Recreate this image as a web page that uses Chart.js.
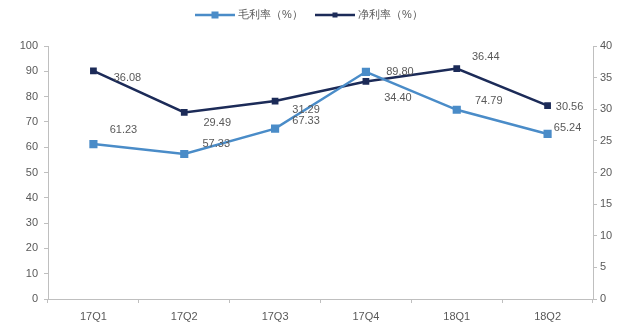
<!DOCTYPE html>
<html lang="zh">
<head>
<meta charset="UTF-8">
<title>毛利率 / 净利率</title>
<script src="https://cdn.jsdelivr.net/npm/chart.js@4.4.1/dist/chart.umd.min.js"></script>
<style>
  html, body { margin: 0; padding: 0; background: #fff; }
  #wrap { width: 627px; height: 329px; }
</style>
</head>
<body>
<div id="wrap"><canvas id="chart" width="627" height="329"></canvas></div>
<script>
// data
const quarters = ['17Q1', '17Q2', '17Q3', '17Q4', '18Q1', '18Q2'];
const grossMargin = [61.23, 57.33, 67.33, 89.80, 74.79, 65.24];
const netMargin = [36.08, 29.49, 31.29, 34.40, 36.44, 30.56];
const seriesNames = ['毛利率（%）', '净利率（%）'];
const leftTicks = { max: 100, step: 10 };
const rightTicks = { max: 40, step: 5 };

// where the value labels sit next to each point (px)
const grossLabelShift = [[30, -14], [32, -10], [31, -8], [34, 0], [32, -9], [20, -6]];
const netLabelShift = [[34, 7], [33, 10], [31, 9], [32, 17], [29, -12], [22, 1]];

const lightBlue = '#4A8CC8';
const navy = '#1C2B58';
const textGray = '#595959';
const axisGray = '#BFBFBF';
const font = { family: 'Liberation Sans, Arial, sans-serif', size: 11 };

const valueLabels = {
  id: 'valueLabels',
  afterDatasetsDraw(chart) {
    const ctx = chart.ctx;
    ctx.save();
    ctx.font = font.size + 'px ' + font.family;
    ctx.fillStyle = textGray;
    ctx.textAlign = 'center';
    ctx.textBaseline = 'middle';
    const shifts = [grossLabelShift, netLabelShift];
    chart.data.datasets.forEach((ds, i) => {
      chart.getDatasetMeta(i).data.forEach((pt, j) => {
        ctx.fillText(ds.data[j].toFixed(2), pt.x + shifts[i][j][0], pt.y + shifts[i][j][1]);
      });
    });
    ctx.restore();
  }
};

// legend drawn by hand: line with a marker in the middle, then the name
const lineLegend = {
  id: 'lineLegend',
  afterDraw(chart) {
    const ctx = chart.ctx;
    ctx.save();
    ctx.font = font.size + 'px ' + font.family;
    ctx.textBaseline = 'middle';
    const y = 15;
    const items = [
      { x: 195, color: lightBlue, size: 7 },
      { x: 315, color: navy, size: 5 }
    ];
    items.forEach((it, i) => {
      ctx.strokeStyle = it.color;
      ctx.lineWidth = 2.5;
      ctx.beginPath();
      ctx.moveTo(it.x, y);
      ctx.lineTo(it.x + 40, y);
      ctx.stroke();
      ctx.fillStyle = it.color;
      ctx.fillRect(it.x + 20 - it.size / 2, y - it.size / 2, it.size, it.size);
      ctx.fillStyle = textGray;
      ctx.fillText(seriesNames[i], it.x + 43, y);
    });
    ctx.restore();
  }
};

new Chart(document.getElementById('chart'), {
  type: 'line',
  data: {
    labels: quarters,
    datasets: [
      {
        label: seriesNames[0],
        data: grossMargin,
        yAxisID: 'y',
        borderColor: lightBlue,
        backgroundColor: lightBlue,
        borderWidth: 2.5,
        pointStyle: 'rect',
        pointRadius: 4,
        tension: 0
      },
      {
        label: seriesNames[1],
        data: netMargin,
        yAxisID: 'y1',
        borderColor: navy,
        backgroundColor: navy,
        borderWidth: 2.5,
        pointStyle: 'rect',
        pointRadius: 3,
        tension: 0
      }
    ]
  },
  options: {
    responsive: false,
    animation: false,
    layout: { padding: { top: 46, left: 0, right: 0, bottom: 0 } },
    plugins: { legend: { display: false }, tooltip: { enabled: false } },
    scales: {
      x: {
        offset: true,
        grid: { drawOnChartArea: false, offset: true, color: axisGray, tickLength: 4 },
        border: { color: axisGray },
        ticks: { color: textGray, font: font, padding: 7, maxRotation: 0 },
        afterFit(s) { s.height = 30; }
      },
      y: {
        position: 'left',
        min: 0,
        max: leftTicks.max,
        ticks: { stepSize: leftTicks.step, color: textGray, font: font, padding: 6 },
        grid: { drawOnChartArea: false, color: axisGray, tickLength: 4 },
        border: { color: axisGray },
        afterFit(s) { s.width = 48; }
      },
      y1: {
        position: 'right',
        min: 0,
        max: rightTicks.max,
        ticks: { stepSize: rightTicks.step, color: textGray, font: font, padding: 3 },
        grid: { drawOnChartArea: false, color: axisGray, tickLength: 4 },
        border: { color: axisGray },
        afterFit(s) { s.width = 34; }
      }
    }
  },
  plugins: [valueLabels, lineLegend]
});
</script>
</body>
</html>
